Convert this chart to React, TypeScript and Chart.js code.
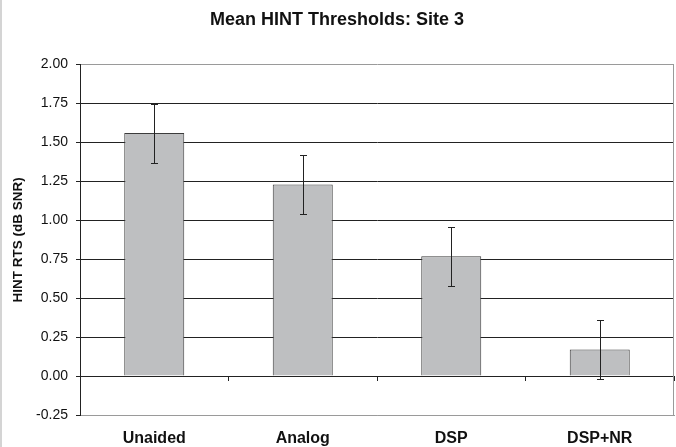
import React, { useEffect, useRef } from "react";
import { Chart, registerables } from "chart.js";

Chart.register(...registerables);

const categories = ["Unaided", "Analog", "DSP", "DSP+NR"];
const meanValues = [1.56, 1.23, 0.77, 0.17];
const errLow = [1.37, 1.04, 0.58, -0.02];
const errHigh = [1.75, 1.42, 0.96, 0.36];
const chartTitle = "Mean HINT Thresholds: Site 3";
const yAxisTitle = "HINT RTS (dB SNR)";

const FONT = "'Liberation Sans', Arial, Helvetica, sans-serif";

const errorBarPlugin = {
  id: "errorBars",
  afterDatasetsDraw(chart: any) {
    const meta = chart.getDatasetMeta(0);
    const y = chart.scales.y;
    const ctx = chart.ctx;
    ctx.save();
    ctx.strokeStyle = "#222";
    ctx.lineWidth = 1;
    meta.data.forEach((bar: any, i: number) => {
      const x = Math.round(bar.x) + 0.5;
      const yTop = Math.round(y.getPixelForValue(errHigh[i])) + 0.5;
      const yBot = Math.round(y.getPixelForValue(errLow[i])) + 0.5;
      ctx.beginPath();
      ctx.moveTo(x, yTop);
      ctx.lineTo(x, yBot);
      ctx.moveTo(x - 3.5, yTop);
      ctx.lineTo(x + 3.5, yTop);
      ctx.moveTo(x - 3.5, yBot);
      ctx.lineTo(x + 3.5, yBot);
      ctx.stroke();
    });
    ctx.restore();
  },
};

const framePlugin = {
  id: "frame",
  afterDraw(chart: any) {
    const { ctx, chartArea } = chart;
    ctx.save();
    ctx.strokeStyle = "#9a9a9a";
    ctx.lineWidth = 1;
    const xr = Math.round(chartArea.right) - 0.5;
    ctx.beginPath();
    ctx.moveTo(xr, chartArea.top);
    ctx.lineTo(xr, chartArea.bottom);
    ctx.stroke();
    ctx.fillStyle = "#d4d4d4";
    ctx.fillRect(0, 0, 2, chart.height);
    ctx.restore();
  },
};

export default function App() {
  const ref = useRef<HTMLCanvasElement | null>(null);

  useEffect(() => {
    document.body.style.margin = "0";
    if (!ref.current) return;
    const chart = new Chart(ref.current, {
      type: "bar",
      data: {
        labels: categories,
        datasets: [
          {
            data: meanValues,
            backgroundColor: "#bebfc1",
            borderColor: "#3c3c3c",
            borderWidth: 1,
            barPercentage: 0.404,
            categoryPercentage: 1,
            xAxisID: "x",
            yAxisID: "y",
          },
        ],
      },
      options: {
        responsive: false,
        animation: false,
        layout: { padding: { left: 0, right: 2, top: 0, bottom: 0 } },
        plugins: {
          legend: { display: false },
          tooltip: { enabled: false },
          title: {
            display: true,
            text: chartTitle,
            color: "#111",
            font: { family: FONT, size: 18, weight: "bold" },
            padding: { top: 9, bottom: 34 },
          },
        },
        scales: {
          x: {
            type: "category",
            position: "bottom",
            grid: { display: false, drawTicks: false },
            border: { display: true, color: "#9a9a9a" },
            ticks: {
              color: "#111",
              padding: 14,
              font: { family: FONT, size: 16, weight: "bold" },
            },
            afterFit: (s: any) => {
              s.height = 32;
            },
          },
          x2: {
            type: "category",
            position: { y: 0 } as any,
            grid: {
              offset: true,
              drawOnChartArea: false,
              drawTicks: true,
              tickLength: 5,
              color: "#222",
              tickColor: "#222",
            },
            border: { display: false },
            ticks: { display: false },
          },
          y: {
            min: -0.25,
            max: 2,
            position: "left",
            border: { display: true, color: "#222" },
            grid: {
              color: (c: any) =>
                c.tick && (c.tick.value === 2 || c.tick.value === -0.25)
                  ? "#9a9a9a"
                  : "#222",
              tickColor: "#222",
              tickLength: 4,
              drawTicks: true,
            },
            ticks: {
              stepSize: 0.25,
              color: "#111",
              padding: 8,
              font: { family: FONT, size: 14 },
              callback: (v: any) => Number(v).toFixed(2),
            },
            title: {
              display: true,
              text: yAxisTitle,
              color: "#111",
              font: { family: FONT, size: 13.5, weight: "bold" },
              padding: { top: 10, bottom: 0 },
            },
            afterFit: (s: any) => {
              s.width = 80;
            },
          },
        },
      },
      plugins: [errorBarPlugin, framePlugin],
    });
    return () => chart.destroy();
  }, []);

  return (
    <div style={{ position: "absolute", left: 0, top: 0, width: 676, height: 447, background: "#fff" }}>
      <canvas ref={ref} width={676} height={447} />
    </div>
  );
}
